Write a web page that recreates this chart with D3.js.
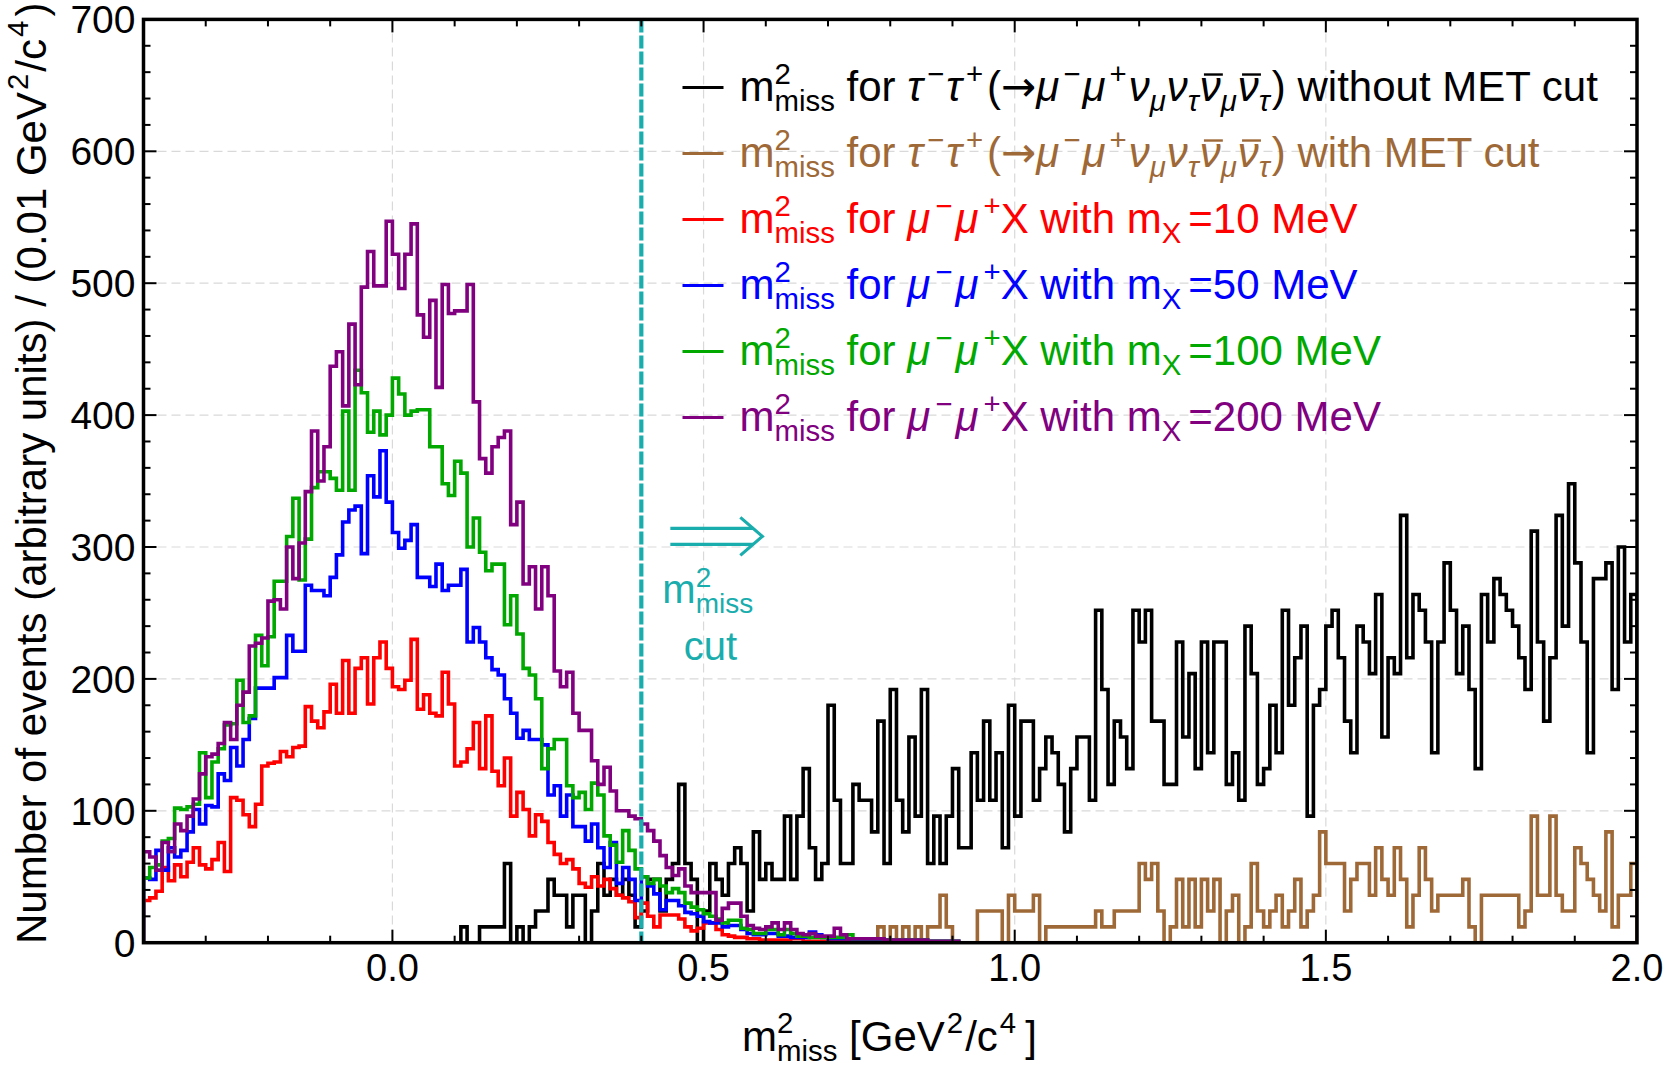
<!DOCTYPE html>
<html>
<head>
<meta charset="utf-8">
<style>
body { margin: 0; background: #fff; }
svg { font-family: "Liberation Sans", Arial, sans-serif; }
</style>
<script src="https://d3js.org/d3.v7.min.js"></script>
</head>
<body>
<svg id="chart" width="1667" height="1069"></svg>
<script>

// histogram bins are 0.01 GeV^2/c^4 wide, each series starts at its own lower edge
var binWidth = 0.01;

// mu- mu+ X signal samples, first bin starts at -0.40
var signalStart = -0.40;
var mx10 = [32, 34, 39, 57, 47, 59, 50, 61, 72, 59,
  56, 63, 76, 54, 110, 108, 97, 88, 105, 134,
  136, 137, 145, 141, 148, 149, 179, 168, 163, 175,
  196, 174, 214, 174, 208, 216, 181, 216, 228, 208,
  194, 192, 199, 230, 177, 188, 174, 172, 205, 181,
  134, 137, 147, 167, 132, 172, 130, 119, 140, 96,
  114, 101, 81, 97, 92, 76, 67, 60, 63, 56,
  45, 42, 50, 43, 48, 41, 36, 34, 31, 19,
  30, 20, 12, 21, 21, 21, 18, 12, 9, 11,
  15, 15, 10, 6, 5, 4, 4, 3, 3, 2,
  2, 2, 2, 2, 3, 3, 1, 1, 1, 1,
  1, 1, 1, 1, 1, 1, 1, 1, 1, 1];
var mx50 = [49, 48, 70, 55, 72, 65, 70, 84, 101, 90,
  104, 103, 128, 123, 148, 134, 154, 170, 193, 193,
  193, 201, 201, 233, 221, 221, 271, 267, 267, 263,
  277, 294, 319, 328, 331, 295, 354, 338, 373, 334,
  311, 299, 305, 317, 277, 277, 270, 287, 267, 271,
  271, 283, 228, 239, 228, 216, 207, 203, 185, 174,
  155, 161, 154, 154, 150, 112, 119, 96, 112, 88,
  88, 77, 90, 72, 57, 76, 45, 57, 48, 32,
  50, 43, 37, 25, 32, 32, 28, 23, 22, 20,
  16, 15, 15, 12, 13, 13, 10, 7, 6, 6,
  7, 7, 5, 5, 4, 4, 4, 8, 6, 4,
  3, 3, 3, 3, 2, 2, 2, 2, 2, 2,
  2, 2, 2, 2, 2, 2, 1, 1, 1, 1, 1];
var mx100 = [49, 57, 59, 77, 79, 102, 101, 103, 105, 144,
  110, 137, 147, 165, 166, 199, 167, 172, 233, 210,
  232, 274, 274, 308, 337, 275, 306, 345, 357, 357,
  352, 343, 403, 343, 434, 417, 387, 403, 385, 400,
  428, 416, 400, 403, 404, 404, 376, 376, 348, 339,
  365, 356, 300, 322, 296, 282, 287, 287, 241, 263,
  234, 208, 203, 185, 132, 147, 154, 154, 119, 110,
  114, 101, 121, 112, 81, 74, 61, 85, 70, 56,
  50, 45, 48, 43, 38, 41, 38, 30, 27, 25,
  22, 20, 18, 15, 17, 17, 11, 10, 7, 7,
  10, 10, 6, 10, 7, 5, 5, 4, 4, 4,
  4, 4, 4, 6, 3, 3, 3, 3, 3, 2,
  2, 2, 2, 2, 2, 2, 1, 1, 1, 1, 1];
var mx200 = [69, 65, 55, 76, 69, 90, 85, 96, 109, 128,
  141, 143, 151, 167, 154, 180, 190, 225, 227, 231,
  259, 260, 253, 300, 276, 303, 342, 388, 350, 376,
  437, 448, 407, 469, 423, 497, 524, 498, 498, 547,
  522, 496, 522, 545, 476, 459, 487, 421, 499, 477,
  479, 479, 499, 410, 367, 356, 376, 383, 388, 317,
  334, 272, 285, 253, 285, 263, 206, 194, 205, 174,
  161, 161, 138, 120, 133, 115, 100, 100, 96, 94,
  90, 85, 77, 66, 57, 51, 56, 43, 38, 38,
  38, 38, 17, 26, 30, 30, 20, 13, 11, 10,
  12, 15, 10, 15, 10, 7, 6, 7, 5, 5,
  5, 11, 6, 3, 3, 3, 3, 3, 3, 2,
  2, 2, 2, 2, 2, 2, 1, 1, 1, 1, 1];

// tau tau background without MET cut, first bin starts at 0.10
var tauStart = 0.10;
var tauNoMet = [0, 12, 0, 0, 12, 12, 12, 12, 60, 0,
  12, 0, 12, 24, 24, 48, 36, 36, 12, 36,
  36, 0, 24, 60, 36, 48, 36, 48, 36, 12,
  24, 48, 48, 24, 48, 60, 120, 60, 48, 0,
  24, 60, 48, 36, 60, 72, 60, 24, 84, 48,
  60, 48, 48, 96, 48, 96, 132, 72, 48, 60,
  180, 108, 60, 60, 120, 108, 108, 84, 168, 60,
  192, 108, 84, 156, 96, 192, 60, 96, 60, 96,
  132, 72, 72, 144, 108, 168, 108, 144, 72, 180,
  96, 168, 168, 108, 132, 156, 144, 120, 84, 132,
  156, 156, 108, 252, 192, 120, 168, 156, 132, 252,
  228, 252, 168, 168, 120, 120, 228, 156, 204, 132,
  228, 144, 228, 228, 120, 144, 108, 240, 204, 120,
  132, 180, 144, 252, 180, 216, 240, 96, 180, 192,
  240, 252, 216, 168, 144, 240, 228, 204, 264, 156,
  216, 204, 324, 216, 264, 252, 228, 144, 228, 288,
  252, 204, 240, 192, 132, 264, 228, 276, 264, 252,
  240, 216, 192, 312, 228, 168, 216, 324, 240, 348,
  288, 228, 144, 276, 276, 288, 192, 300, 228, 264];

// tau tau background with MET cut, first bin starts at 0.78
var tauMetStart = 0.78;
var tauMet = [12, 0, 12, 0, 12, 0, 12, 0, 12, 12,
  36, 12, 0, 0, 0, 0, 24, 24, 24, 24,
  0, 36, 24, 24, 24, 36, 0, 12, 12, 12,
  12, 12, 12, 12, 12, 24, 12, 12, 24, 24,
  24, 24, 60, 48, 60, 24, 0, 12, 48, 12,
  48, 12, 48, 24, 48, 0, 24, 36, 0, 12,
  60, 24, 12, 24, 36, 12, 24, 48, 12, 24,
  36, 84, 60, 60, 60, 24, 48, 60, 60, 36,
  72, 48, 36, 72, 48, 12, 36, 72, 48, 24,
  36, 36, 36, 36, 48, 12, 0, 36, 36, 36,
  36, 36, 36, 12, 24, 96, 36, 36, 96, 36,
  24, 24, 72, 60, 48, 36, 24, 84, 12, 36,
  36, 60];

var xTickValues = [0.0, 0.5, 1.0, 1.5, 2.0];
var yTickValues = [0, 100, 200, 300, 400, 500, 600, 700];
var cutValue = 0.4;

var width = 1667;
var height = 1069;
var margin = {left: 143.5, right: 30, top: 19.4, bottom: 126.3};
var plotW = width - margin.left - margin.right;
var plotH = height - margin.top - margin.bottom;

var x = d3.scaleLinear().domain([-0.4, 2.0]).range([0, plotW]);
var y = d3.scaleLinear().domain([0, 700]).range([plotH, 0]);

var teal = "#1aadad";

var series = [
  {vals: tauNoMet, start: tauStart, color: "#000000", label: "tau", tail: " without MET cut"},
  {vals: tauMet, start: tauMetStart, color: "#9e6937", label: "tau", tail: " with MET cut"},
  {vals: mx10, start: signalStart, color: "#ff0000", label: "X", mass: "10"},
  {vals: mx50, start: signalStart, color: "#0000ff", label: "X", mass: "50"},
  {vals: mx100, start: signalStart, color: "#00a800", label: "X", mass: "100"},
  {vals: mx200, start: signalStart, color: "#800080", label: "X", mass: "200"}
];

var svg = d3.select("#chart");
var g = svg.append("g").attr("transform", "translate(" + margin.left + "," + margin.top + ")");

g.append("clipPath").attr("id", "plotClip")
  .append("rect").attr("width", plotW).attr("height", plotH);

// dashed grid at the major ticks
var grid = g.append("g").attr("stroke", "#d9d9d9").attr("stroke-width", 1.2).attr("stroke-dasharray", "9,5");
grid.selectAll(".gx").data([0.0, 0.5, 1.0, 1.5]).enter().append("line")
  .attr("x1", function(d) { return x(d); }).attr("x2", function(d) { return x(d); })
  .attr("y1", 0).attr("y2", plotH);
grid.selectAll(".gy").data([100, 200, 300, 400, 500, 600]).enter().append("line")
  .attr("y1", function(d) { return y(d); }).attr("y2", function(d) { return y(d); })
  .attr("x1", 0).attr("x2", plotW);

// step outline for one histogram
function stepPoints(s) {
  var pts = [[s.start, 0]];
  s.vals.forEach(function(v, i) {
    pts.push([s.start + i * binWidth, v]);
    pts.push([s.start + (i + 1) * binWidth, v]);
  });
  pts.push([s.start + s.vals.length * binWidth, 0]);
  return pts;
}

var line = d3.line()
  .x(function(d) { return x(d[0]); })
  .y(function(d) { return y(d[1]); });

var hist = g.append("g").attr("clip-path", "url(#plotClip)");
hist.selectAll("path").data(series).enter().append("path")
  .attr("d", function(s) { return line(stepPoints(s)); })
  .attr("fill", "none")
  .attr("stroke", function(s) { return s.color; })
  .attr("stroke-width", 3.6)
  .attr("stroke-linejoin", "miter");

// m^2_miss cut line
g.append("line")
  .attr("x1", x(cutValue)).attr("x2", x(cutValue))
  .attr("y1", 0).attr("y2", plotH)
  .attr("stroke", teal).attr("stroke-width", 4.2)
  .attr("stroke-dasharray", "13,3");

// frame and ticks on all four sides, pointing inward
var frame = g.append("g").attr("stroke", "#000");
var xMinor = d3.range(-3, 20).map(function(k) { return k / 10; });
var yMinor = d3.range(1, 35).map(function(k) { return k * 20; });
xMinor.forEach(function(v) {
  var len = (Math.abs(v * 2 - Math.round(v * 2)) < 1e-6) ? 13 : 7;
  frame.append("line").attr("x1", x(v)).attr("x2", x(v)).attr("y1", plotH).attr("y2", plotH - len).attr("stroke-width", 2);
  frame.append("line").attr("x1", x(v)).attr("x2", x(v)).attr("y1", 0).attr("y2", len).attr("stroke-width", 2);
});
yMinor.forEach(function(v) {
  var len = (v % 100 === 0) ? 13 : 7;
  frame.append("line").attr("y1", y(v)).attr("y2", y(v)).attr("x1", 0).attr("x2", len).attr("stroke-width", 2);
  frame.append("line").attr("y1", y(v)).attr("y2", y(v)).attr("x1", plotW).attr("x2", plotW - len).attr("stroke-width", 2);
});
frame.append("rect").attr("width", plotW).attr("height", plotH)
  .attr("fill", "none").attr("stroke-width", 3.5);

// tick labels
g.selectAll(".xl").data(xTickValues).enter().append("text")
  .attr("x", function(d) { return x(d); }).attr("y", plotH + 38)
  .attr("text-anchor", "middle").attr("font-size", 38)
  .text(function(d) { return d.toFixed(1); });
g.selectAll(".yl").data(yTickValues).enter().append("text")
  .attr("x", -8).attr("y", function(d) { return y(d); }).attr("dy", "0.36em")
  .attr("text-anchor", "end").attr("font-size", 39)
  .text(function(d) { return d; });

// rich text with super/subscripts; "under" puts a subscript below the previous superscript.
// Parts flagged "bar" get a short overbar drawn into barLayer afterwards.
function richText(sel, parts, size, barLayer, color) {
  var small = size * 0.7;
  var cur = 0, prevSup = null, bars = [];
  parts.forEach(function(p) {
    var k = p.k || "n";
    var target = k === "sup" ? -0.42 * size : (k === "sub" || k === "under") ? 0.24 * size : 0;
    var ts = sel.append("tspan").text(p.t).attr("dy", target - cur);
    cur = target;
    if (k !== "n") ts.attr("font-size", small);
    if (p.it) ts.attr("font-style", "italic");
    if (p.font) ts.attr("font-family", p.font);
    if (k === "under" && prevSup) ts.attr("dx", -prevSup.node().getComputedTextLength());
    else if (p.dx) ts.attr("dx", p.dx);
    prevSup = k === "sup" ? ts : null;
    if (p.bar) bars.push(ts);
  });
  bars.forEach(function(ts) {
    var n = ts.node();
    var p0 = n.getStartPositionOfChar(0);
    var w = n.getComputedTextLength();
    barLayer.append("line")
      .attr("x1", p0.x + 0.1 * size).attr("x2", p0.x + w + 0.05 * size)
      .attr("y1", p0.y - 0.64 * size).attr("y2", p0.y - 0.64 * size)
      .attr("stroke", color).attr("stroke-width", 2.4);
  });
}

var mmiss = [{t: "m"}, {t: "2", k: "sup"}, {t: "miss", k: "under"}];

// legend
var legend = g.append("g");
series.forEach(function(s, i) {
  var by = 82 + i * 66;
  legend.append("line").attr("x1", 539).attr("x2", 580)
    .attr("y1", by - 14).attr("y2", by - 14)
    .attr("stroke", s.color).attr("stroke-width", 3);
  var t = legend.append("text").attr("x", 596).attr("y", by)
    .attr("font-size", 42).attr("fill", s.color);
  var parts;
  if (s.label === "tau") {
    parts = mmiss.concat([
      {t: " for "}, {t: "τ", it: 1}, {t: "−", k: "sup", dx: 4}, {t: "τ", it: 1, dx: 2}, {t: "+", k: "sup", dx: 4},
      {t: "(", dx: 4}, {t: "→", font: "DejaVu Sans"}, {t: "μ", it: 1}, {t: "−", k: "sup", dx: 4}, {t: "μ", it: 1, dx: 2}, {t: "+", k: "sup", dx: 4},
      {t: "ν", it: 1, dx: 2}, {t: "μ", k: "sub", it: 1}, {t: "ν", it: 1, dx: 1}, {t: "τ", k: "sub", it: 1},
      {t: "ν", it: 1, bar: 1, dx: 1}, {t: "μ", k: "sub", it: 1}, {t: "ν", it: 1, bar: 1, dx: 1}, {t: "τ", k: "sub", it: 1},
      {t: ")" + s.tail, dx: 2}
    ]);
  } else {
    parts = mmiss.concat([
      {t: " for "}, {t: "μ", it: 1}, {t: "−", k: "sup", dx: 5}, {t: "μ", it: 1, dx: 3}, {t: "+", k: "sup", dx: 5},
      {t: "X with m"}, {t: "X", k: "sub"}, {t: "=" + s.mass + " MeV", dx: 7}
    ]);
  }
  richText(t, parts, 42, legend, s.color);
});

// cut annotation: double arrow and label
var ax = x(cutValue);
var arrow = g.append("g").attr("stroke", teal).attr("stroke-width", 3.2).attr("fill", "none");
arrow.append("line").attr("x1", ax + 29).attr("x2", ax + 112).attr("y1", 509).attr("y2", 509);
arrow.append("line").attr("x1", ax + 29).attr("x2", ax + 112).attr("y1", 525).attr("y2", 525);
arrow.append("path").attr("d", "M" + (ax + 99) + ",498 L" + (ax + 121) + ",517 L" + (ax + 99) + ",536");

var ct = g.append("text").attr("x", ax + 21).attr("y", 584).attr("font-size", 40).attr("fill", teal);
richText(ct, mmiss, 40);
g.append("text").attr("x", ax + 69).attr("y", 641).attr("text-anchor", "middle")
  .attr("font-size", 40).attr("fill", teal).text("cut");

// axis titles
var xt = svg.append("text").attr("x", 742).attr("y", 1051).attr("font-size", 42);
richText(xt, mmiss.concat([{t: " [GeV"}, {t: "2", k: "sup", dx: 2}, {t: "/c", dx: 2}, {t: "4", k: "sup", dx: 2}, {t: "]", dx: 9}]), 42);

var yt = svg.append("text").attr("transform", "translate(46,944) rotate(-90)").attr("font-size", 42);
richText(yt, [{t: "Number of events (arbitrary units) / (0.01 GeV"}, {t: "2", k: "sup", dx: 2}, {t: "/c", dx: 2}, {t: "4", k: "sup", dx: 2}, {t: ")", dx: 4}], 42);

</script>
</body>
</html>
